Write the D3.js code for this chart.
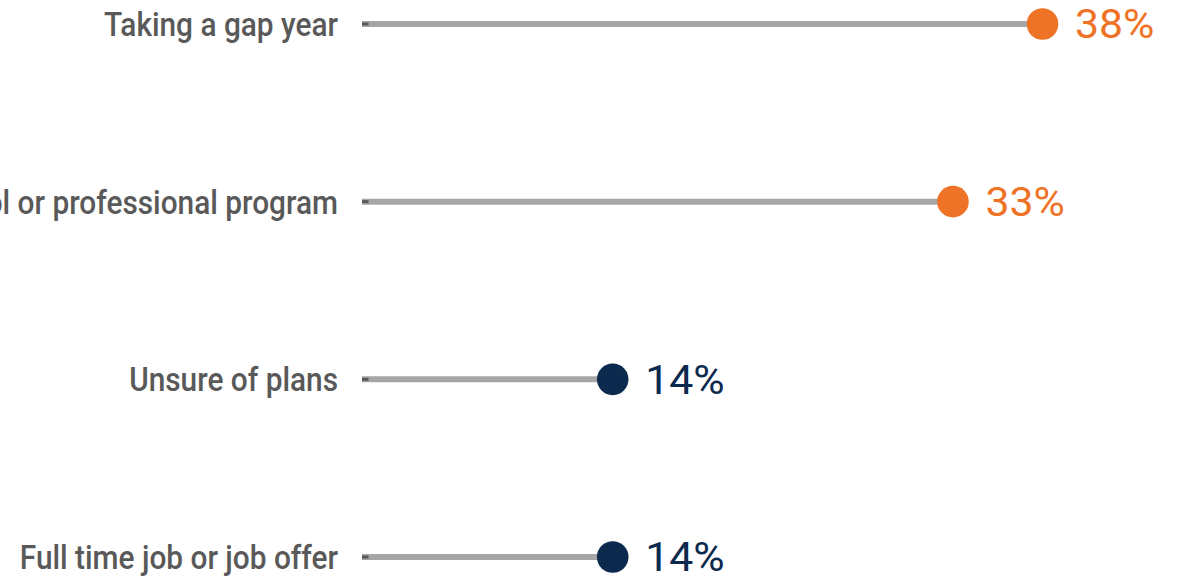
<!DOCTYPE html>
<html>
<head>
<meta charset="utf-8">
<script src="https://cdn.jsdelivr.net/npm/d3@7/dist/d3.min.js"></script>
<style>
  html, body { margin: 0; padding: 0; background: #ffffff; }
  svg { display: block; }
</style>
</head>
<body>
<svg id="chart" width="1184" height="577"></svg>
<script>
const categories = ["Taking a gap year", "Graduate school or professional program", "Unsure of plans", "Full time job or job offer"];
const values = [38, 33, 14, 14];
const valueLabels = ["38%", "33%", "14%", "14%"];
const dotColors = ["#EF7326", "#EF7326", "#0B2A4E", "#0B2A4E"];

const svg = d3.select("#chart");
const x = d3.scaleLinear().domain([0, 38]).range([362, 1042.5]);
const y = d3.scalePoint().domain(categories).range([24, 557]);

const rows = svg.selectAll("g.row").data(categories).join("g").attr("class", "row");

rows.append("line")
  .attr("x1", x(0)).attr("x2", (d, i) => x(values[i]))
  .attr("y1", d => y(d)).attr("y2", d => y(d))
  .attr("stroke", "#A6A6A6").attr("stroke-width", 6);

rows.append("line")
  .attr("x1", x(0)).attr("x2", x(0) + 6.5)
  .attr("y1", d => y(d)).attr("y2", d => y(d))
  .attr("stroke", "#595959").attr("stroke-width", 3);

rows.append("circle")
  .attr("cx", (d, i) => x(values[i])).attr("cy", d => y(d))
  .attr("r", 15.8)
  .attr("fill", (d, i) => dotColors[i]);

const labels = rows.append("text")
  .attr("x", 0).attr("y", 0).attr("dy", "0.36em")
  .attr("text-anchor", "end")
  .attr("font-family", "Roboto, 'Noto Sans', sans-serif")
  .attr("font-weight", 500)
  .attr("font-size", 33)
  .attr("fill", "#595959")
  .text(d => d);

// condense the labels horizontally to mimic a condensed gothic face
const w0 = labels.node().getComputedTextLength();
const k = 234 / w0;
labels.attr("transform", d => `translate(338,${y(d)}) scale(${k},1)`);

rows.append("text")
  .attr("x", 0).attr("y", 0).attr("dy", "0.36em")
  .attr("transform", (d, i) => `translate(${x(values[i]) + 32.5},${y(d)}) scale(1.07,1)`)
  .attr("font-family", "Roboto, 'Noto Sans', sans-serif")
  .attr("font-size", 40)
  .attr("fill", (d, i) => dotColors[i])
  .text((d, i) => valueLabels[i]);
</script>
</body>
</html>
